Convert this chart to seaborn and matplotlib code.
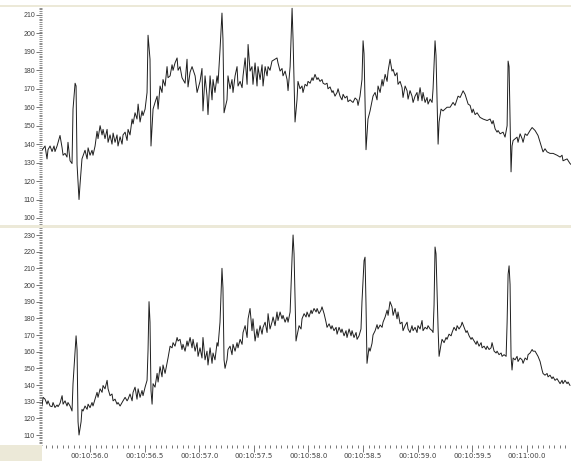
import matplotlib
matplotlib.use("Agg")
import matplotlib.pyplot as plt
from matplotlib.ticker import MultipleLocator, FixedLocator
from matplotlib.patches import Rectangle
import pandas as pd
import seaborn as sns

# Two ECG-style traces, time in ms relative to 00:10:56.0
top_ms = [-440, -412, -394, -385, -366, -348, -330, -321, -302, -275, -256, -247, -229, -211, -202,
          -183, -165, -156, -137, -128, -119, -101, -92, -74, -46, -27, -18, 0, 18, 27, 46, 64, 73,
          92, 110, 119, 137, 156, 165, 183, 201, 211, 229, 247, 256, 275, 293, 302, 321, 339, 348,
          366, 385, 394, 412, 430, 440, 458, 476, 485, 504, 522, 531, 549, 558, 577, 595, 614, 623,
          641, 659, 668, 687, 705, 714, 733, 751, 760, 778, 797, 806, 824, 842, 851, 870, 888, 897,
          916, 934, 962, 980, 1007, 1025, 1034, 1053, 1071, 1080, 1099, 1117, 1126, 1144, 1163,
          1172, 1190, 1208, 1217, 1227, 1254, 1263, 1282, 1300, 1309, 1328, 1346, 1355, 1374, 1392,
          1401, 1420, 1438, 1447, 1465, 1483, 1492, 1511, 1529, 1538, 1557, 1575, 1584, 1603, 1621,
          1630, 1648, 1666, 1694, 1712, 1721, 1740, 1758, 1767, 1786, 1804, 1813, 1832, 1850, 1859,
          1877, 1895, 1904, 1923, 1941, 1950, 1969, 1987, 1996, 2015, 2033, 2042, 2060, 2078, 2088,
          2106, 2124, 2134, 2152, 2170, 2179, 2198, 2216, 2225, 2243, 2262, 2271, 2289, 2307, 2317,
          2335, 2353, 2362, 2381, 2399, 2408, 2427, 2445, 2454, 2472, 2490, 2500, 2509, 2527, 2545,
          2564, 2591, 2610, 2628, 2637, 2656, 2674, 2683, 2702, 2720, 2729, 2747, 2765, 2775, 2793,
          2811, 2820, 2839, 2857, 2866, 2885, 2903, 2912, 2930, 2948, 2958, 2976, 2994, 3003, 3022,
          3040, 3049, 3068, 3086, 3095, 3114, 3132, 3141, 3159, 3168, 3187, 3196, 3214, 3232, 3251,
          3269, 3297, 3324, 3342, 3361, 3370, 3389, 3416, 3434, 3453, 3462, 3480, 3498, 3508, 3526,
          3544, 3571, 3599, 3636, 3663, 3681, 3691, 3709, 3727, 3736, 3755, 3782, 3800, 3819, 3828,
          3837, 3855, 3864, 3874, 3910, 3919, 3938, 3956, 3965, 3984, 4002, 4029, 4048, 4075, 4102,
          4121, 4139, 4148, 4166, 4185, 4212, 4240, 4276, 4304, 4322, 4331, 4368, 4395, 4404]
top_val = [136.7, 139, 132, 137, 139, 136, 139, 136, 139, 144.7, 138, 134, 135, 133, 141,
           131, 129.5, 159, 173, 171.5, 129, 110, 118, 132, 136.7, 132, 138, 134, 136.7, 134, 139, 147, 143,
           150, 145, 148, 143, 148, 141, 145, 140, 146, 141, 145, 139, 144, 140, 145, 146.5, 142, 148,
           145, 153.6, 151, 157, 153.6, 161.7, 152, 158, 155.5, 159, 168, 199, 186, 139, 159, 162.6, 166, 159,
           171.5, 168, 175, 171.5, 182, 176, 177, 183, 180, 184, 186.7, 180, 182, 176, 175, 173, 186, 171,
           179, 182, 177, 168, 174, 181, 158, 177, 166, 156, 177, 164, 175, 168, 177,
           173, 191, 211, 197, 157, 164, 177, 170, 175, 168, 177, 182, 171.5, 174, 170.6,
           177, 186.7, 172.4, 194, 179.6, 182, 172.4, 184, 171.5, 182, 175, 183, 171.5, 182, 177,
           182, 180, 185, 186, 186.7, 184, 179.6, 181, 177, 179.6, 175, 169, 182, 213.6, 196.6,
           152, 164, 174, 170, 171.5, 168, 172.4, 171.5, 174, 173, 176, 174.5, 177.8, 175, 176,
           174, 175, 173, 172.4, 173, 170, 171, 168, 169, 166, 168, 170, 166, 164, 167,
           165, 166, 163, 164, 163, 162.6, 165, 164, 161, 166, 175, 196, 189, 137, 153.6,
           158, 166, 168, 164, 171.5, 168, 175, 171.5, 177.8, 174, 179.6, 186, 179.6, 180.5, 177,
           178.7, 172.4, 174, 170.6, 165.3, 171.5, 168.9, 164.4, 169, 166, 162.6, 166, 168, 163.5, 170.6,
           163.5, 168, 162.6, 165.3, 161.7, 164.4, 162.6, 170, 196, 188, 140, 152, 159, 158, 159,
           160, 160, 162.6, 161, 164.4, 166, 165.3, 168.9, 167, 163.5, 161.7, 161, 157, 159, 156,
           157, 154.5, 153.6, 152.8, 153.6, 151, 152.8, 148.3, 146.5, 147.4, 145.6, 146.5, 143.8, 150, 185,
           182, 125, 139, 142, 143.8, 141, 145.6, 143, 141, 145.6, 144.7, 147.4, 149, 147.4, 144.7,
           141, 137.5, 135.8, 137.5, 135.8, 135, 135, 134, 133, 134, 131, 132, 129.5, 129]

bottom_ms = [-440, -430, -412, -394, -385, -366, -348, -339, -321, -302, -293, -275, -256, -247, -229,
             -211, -202, -183, -165, -156, -137, -128, -119, -110, -101, -82, -74, -64, -46, -27, -18,
             0, 18, 27, 46, 64, 73, 92, 110, 119, 137, 156, 165, 183, 201, 211, 229, 247, 256, 275,
             293, 302, 321, 339, 348, 366, 385, 394, 412, 430, 440, 458, 476, 485, 504, 522, 531, 540,
             549, 558, 568, 577, 595, 614, 623, 641, 659, 668, 687, 705, 714, 733, 751, 760, 778, 797,
             806, 824, 842, 851, 870, 888, 897, 916, 934, 943, 962, 980, 989, 1007, 1025, 1034, 1053,
             1071, 1080, 1099, 1117, 1126, 1144, 1163, 1172, 1190, 1208, 1217, 1227, 1236, 1254, 1263,
             1282, 1300, 1309, 1328, 1346, 1355, 1374, 1392, 1401, 1420, 1438, 1447, 1465, 1483, 1492,
             1511, 1529, 1538, 1557, 1575, 1584, 1603, 1621, 1630, 1648, 1666, 1676, 1694, 1712, 1721,
             1740, 1758, 1767, 1786, 1804, 1813, 1832, 1850, 1859, 1868, 1886, 1895, 1914, 1932, 1941,
             1960, 1978, 1987, 2005, 2024, 2033, 2051, 2070, 2079, 2097, 2115, 2124, 2143, 2161, 2170,
             2189, 2207, 2216, 2234, 2253, 2262, 2280, 2298, 2307, 2326, 2344, 2353, 2372, 2390, 2399,
             2417, 2436, 2445, 2463, 2481, 2490, 2509, 2518, 2527, 2536, 2554, 2564, 2582, 2591, 2610,
             2628, 2637, 2656, 2674, 2683, 2702, 2720, 2729, 2747, 2765, 2775, 2793, 2811, 2820, 2839,
             2857, 2866, 2885, 2903, 2912, 2930, 2948, 2958, 2976, 2994, 3003, 3022, 3040, 3049, 3068,
             3086, 3095, 3114, 3132, 3141, 3150, 3159, 3168, 3187, 3196, 3214, 3223, 3242, 3260, 3269,
             3287, 3306, 3315, 3333, 3352, 3361, 3379, 3398, 3407, 3425, 3443, 3453, 3471, 3489, 3498,
             3517, 3535, 3544, 3562, 3581, 3590, 3608, 3626, 3636, 3654, 3672, 3681, 3700, 3718, 3727,
             3745, 3764, 3773, 3791, 3810, 3819, 3828, 3837, 3846, 3855, 3864, 3874, 3892, 3910, 3919,
             3938, 3956, 3965, 3984, 4002, 4011, 4029, 4048, 4057, 4075, 4093, 4102, 4121, 4139, 4148,
             4166, 4185, 4194, 4212, 4230, 4240, 4258, 4276, 4285, 4304, 4322, 4331, 4349, 4368, 4377,
             4395]
bottom_val = [127.4, 132.6, 131.5, 128.5, 130.5, 127.4, 127, 129.5, 126.5, 128, 127, 129, 133.6, 128.5, 130.5,
              127.4, 129.5, 127.4, 124.4, 140.8, 160, 169.5, 161, 118, 110, 118, 125.4, 124.4, 127.4, 125.4, 128.5,
              126.4, 129.5, 127.4, 131.5, 135.6, 132.6, 137.7, 135.6, 139.7, 137.7, 142.8, 137.7, 133.6, 134.6, 130.5, 131.5, 128.5, 129.5, 127.4,
              129.5, 130.5, 132.6, 130.5, 131.5, 134.6, 130.5, 135.6, 138.7, 131.5, 137.7, 132.6, 136.7, 133.6, 138.7, 142.8, 161, 190,
              177.7, 136.7, 128.5, 140.8, 138.7, 147, 141.8, 151, 144.9, 152, 147, 153, 156.2, 163.3, 162.3, 165.4, 163.3, 168.5,
              166.4, 167.4, 161.3, 164.4, 160.3, 166.4, 163.3, 168.5, 162.3, 167.4, 160.3, 165.4, 157.2, 162.3, 156.2, 168.5, 155.1,
              160.3, 152, 162.3, 153, 159.2, 155.1, 165.4, 163.3, 177.7, 210, 198.2, 155.1, 150, 155.1, 161.3,
              163.3, 158.2, 164.4, 160.3, 165.4, 162.3, 167.4, 164.4, 171.5, 175.6, 168.5, 179.7, 185.9, 172.6, 179.7,
              166.4, 173.6, 168.5, 175.6, 170.5, 174.6, 177.7, 171.5, 182.8, 173.6, 177.7, 180.8, 175.6, 183.8, 178.7,
              183.8, 179.7, 181.8, 177.7, 180.8, 177.7, 183.8, 216.7, 230, 218.7, 166.4, 169.5, 175.6, 173.6, 179.7,
              182.8, 180.8, 183.8, 180.8, 184.9, 182.8, 185.9, 183.8, 185.9, 182.8, 184.9, 186.9, 182.8, 177.7, 174.6,
              176.7, 173.6, 175.6, 172.6, 174.6, 170.5, 174.6, 171.5, 173.6, 169.5, 172.6, 168.5, 173.6, 169.5, 172.6,
              168.5, 171.5, 167.4, 169.5, 173.6, 190, 214.6, 216.7, 188, 153, 162.3, 160.3, 165, 170, 172.5,
              176.2, 173.6, 176, 174.6, 177.7, 180.8, 184.9, 181.8, 190, 186.9, 181.8, 185.9, 179.7, 183.8, 176.7,
              177.7, 172.6, 175.6, 177.7, 173.6, 171.5, 175.6, 172.6, 174.6, 171.5, 175.6, 173.6, 178.7, 172.6, 174.6,
              173.6, 175.6, 173.6, 172.6, 171.5, 188, 222.8, 218.7, 173.6, 157.2, 164.4, 167.4, 165.4, 168.5, 167.4,
              170.5, 169.5, 171.5, 174.6, 172.6, 175.6, 173.6, 175.6, 177.7, 174.6, 171.5, 172.6, 169.5, 167.4, 168.5,
              166.4, 164.4, 166.4, 163.3, 165.4, 162.3, 163.3, 161.3, 163.3, 161.3, 162.3, 165.4, 160.3, 159.2, 160.3,
              158.2, 159.2, 157.2, 158.2, 157.2, 177.7, 206.4, 211.5, 200.3, 157.2, 149, 156.2, 155.1, 157.2, 154.1,
              156.2, 155.1, 153, 156.2, 155.1, 158.2, 159.2, 161.3, 160.3, 160.3, 158.2, 157.2, 154.1, 149, 146.9,
              145.9, 146.9, 144.9, 145.9, 143.8, 144.9, 142.8, 143.8, 142.8, 140.8, 142.8, 140.8, 142.8, 140.8, 141.8,
              139.7]

tick_ms = [0, 500, 1000, 1500, 2000, 2500, 3000, 3500, 4000]
tick_labels = ["00:10:56.0", "00:10:56.5", "00:10:57.0", "00:10:57.5", "00:10:58.0",
               "00:10:58.5", "00:10:59.0", "00:10:59.5", "00:11:00.0"]

sns.set_style("white")
plt.rcParams["font.family"] = ["Liberation Sans", "DejaVu Sans"]

W, H = 571, 461
fig = plt.figure(figsize=(W / 100, H / 100), dpi=100)
fig.patch.set_facecolor("white")

BEIGE = "#ECE9D8"
TXT = "#404040"
TICK = "#606060"
LINE = "#1e1e1e"

# panel rectangles in pixel terms (left, top, right, bottom)
ax_top = fig.add_axes([42 / W, 1 - 225 / H, (W - 42) / W, (225 - 7) / H])
ax_bot = fig.add_axes([42 / W, 1 - 445 / H, (W - 42) / W, (445 - 228) / H])

x_lo, x_hi = -440, 4404

for ax, ms, vals, ylim, ymaj in [
    (ax_top, top_ms, top_val, (96.2, 214.3), list(range(100, 211, 10))),
    (ax_bot, bottom_ms, bottom_val, (104.0, 234.2), list(range(110, 231, 10))),
]:
    df = pd.DataFrame({"ms": ms, "value": vals})
    sns.lineplot(data=df, x="ms", y="value", ax=ax, estimator=None, sort=False,
                 color=LINE, linewidth=0.7)
    ax.set_xlim(x_lo, x_hi)
    ax.set_ylim(*ylim)
    ax.set_xlabel("")
    ax.set_ylabel("")
    for s in ax.spines.values():
        s.set_visible(False)
    ax.yaxis.set_major_locator(FixedLocator(ymaj))
    ax.yaxis.set_minor_locator(MultipleLocator(1))
    ax.tick_params(axis="y", which="major", length=4, width=0.6, color=TICK,
                   labelsize=5, labelcolor=TXT, pad=1, left=True)
    ax.tick_params(axis="y", which="minor", length=2, width=0.5, color=TICK, left=True)
    ax.set_yticklabels([str(v) for v in ymaj])

# time axis only on the lower panel
ax_top.set_xticks([])
ax_bot.xaxis.set_major_locator(FixedLocator(tick_ms))
ax_bot.xaxis.set_minor_locator(MultipleLocator(50))
ax_bot.set_xticklabels(tick_labels, fontfamily="Liberation Sans Narrow")
ax_bot.tick_params(axis="x", which="major", length=5, width=0.6, color=TICK,
                   labelsize=5, labelcolor=TXT, pad=0.5, bottom=True)
ax_bot.tick_params(axis="x", which="minor", length=2.5, width=0.6, color=TICK, bottom=True)

# window frame bands
fig.patches.append(Rectangle((0, 1 - 7 / H), 1, 2 / H, transform=fig.transFigure,
                             facecolor=BEIGE, edgecolor="none", zorder=5))
fig.patches.append(Rectangle((0, 1 - 228 / H), 1, 3 / H, transform=fig.transFigure,
                             facecolor=BEIGE, edgecolor="none", zorder=5))
fig.patches.append(Rectangle((0, 0), 42 / W, 16 / H, transform=fig.transFigure,
                             facecolor=BEIGE, edgecolor="none", zorder=5))

fig.savefig("out.png", dpi=100, facecolor="white")
